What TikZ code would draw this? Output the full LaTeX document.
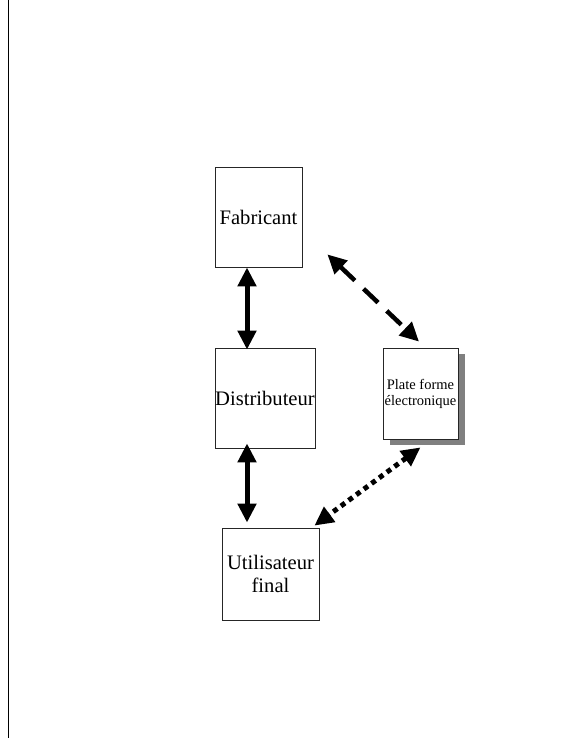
\documentclass[tikz,border=0pt]{standalone}
\usepackage{fontspec}
\setmainfont{Liberation Serif}
\usetikzlibrary{arrows.meta,shadows}
\definecolor{shadowgray}{RGB}{128,128,128}
\begin{document}
\begin{tikzpicture}[x=1pt,y=-1pt,
    box/.style={draw=black!85,line width=0.8pt,inner sep=0pt,align=center,
        font=\fontsize{20.6}{23}\selectfont},
    flow/.style={line width=5pt,{Triangle[length=19pt,width=18pt]}-{Triangle[length=19pt,width=18pt]}}]
    \useasboundingbox (0,0) rectangle (562,738);
    \draw[line width=1.5pt] (8.5,0) -- (8.5,738);

    \node[box,minimum width=87pt,minimum height=100pt] (fab) at (258.5,217) {Fabricant};
    \node[box,minimum width=100pt,minimum height=100pt] (dist) at (265,398) {Distributeur};
    \node[box,minimum width=97pt,minimum height=92pt] (util) at (270.5,574) {Utilisateur\\final};
    \node[box,minimum width=75pt,minimum height=91pt,fill=white,
        font=\fontsize{14.5}{16}\selectfont,
        drop shadow={shadow xshift=7pt,shadow yshift=-6pt,fill=shadowgray,opacity=1}]
        (plate) at (420.5,393.5) {Plate forme\\électronique};

    \draw[flow] ([xshift=-11.5pt]fab.south) -- ([xshift=-18pt,yshift=-2pt]dist.north);
    \draw[flow] ([xshift=-18pt,yshift=5pt]dist.south) -- ([xshift=-23.5pt,yshift=5pt]util.north);
    \draw[flow,line width=4.5pt,dash pattern=on 20pt off 12pt]
        ([xshift=25pt,yshift=13pt]fab.south east) -- ([xshift=-1.5pt,yshift=6pt]plate.north);
    \draw[flow,dash pattern=on 5pt off 4.5pt]
        ([yshift=-8pt]plate.south) -- ([xshift=-5pt,yshift=2pt]util.north east);
\end{tikzpicture}
\end{document}
